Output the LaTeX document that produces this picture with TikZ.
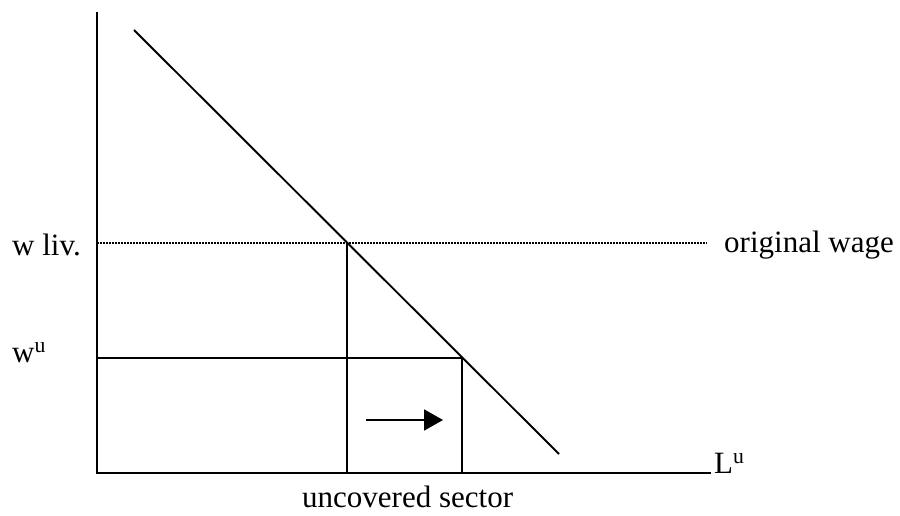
\documentclass[tikz,border=0pt]{standalone}
\usepackage{fontspec}
\setmainfont{Liberation Serif}
\usetikzlibrary{arrows.meta}
\begin{document}
\begin{tikzpicture}[x=1pt,y=-1pt,
  axisline/.style={line width=2pt},
  plainline/.style={line width=1.9pt},
  dottedline/.style={line width=1.8pt,dash pattern=on 1.5pt off 1.5pt},
  lbl/.style={inner sep=0pt,anchor=base west,font=\fontsize{31}{36}\selectfont}]
\useasboundingbox (0,0) rectangle (900,516);
% coordinates
\coordinate (ytop) at (97,12);
\coordinate (origin) at (97,473);
\coordinate (xend) at (711,473);
\coordinate (dtop) at (134,30);
\coordinate (dbot) at (559,454);
\coordinate (wlivaxis) at (97,242.7);
\coordinate (A) at (346.7,242.7);
\coordinate (dotend) at (707,242.7);
\coordinate (wuaxis) at (97,358.3);
\coordinate (B) at (462.3,358.3);
\coordinate (Abot) at (346.7,473);
\coordinate (Bbot) at (462.3,473);
\coordinate (arrs) at (366,420);
\coordinate (arre) at (443,420);
% axes
\draw[axisline] (ytop) -- (origin) -- (xend);
% demand line
\draw[plainline] (dtop) -- (dbot);
% dotted wage line
\draw[dottedline] (wlivaxis) -- (dotend);
% verticals and horizontal
\draw[plainline] (A) -- (Abot);
\draw[plainline] (wuaxis) -- (B) -- (Bbot);
% arrow
\draw[plainline,-{Triangle[length=19pt,width=21pt]}] (arrs) -- (arre);
% labels
\node[lbl] (wliv) at (12,255) {w liv.};
\node[lbl] (orig) at (724,252) {original wage};
\node[lbl] (wu) at (12,362) {w\textsuperscript{u}};
\node[lbl] (Lu) at (714,473) {L\textsuperscript{u}};
\node[lbl] (unc) at (302,507) {uncovered sector};
\end{tikzpicture}
\end{document}
